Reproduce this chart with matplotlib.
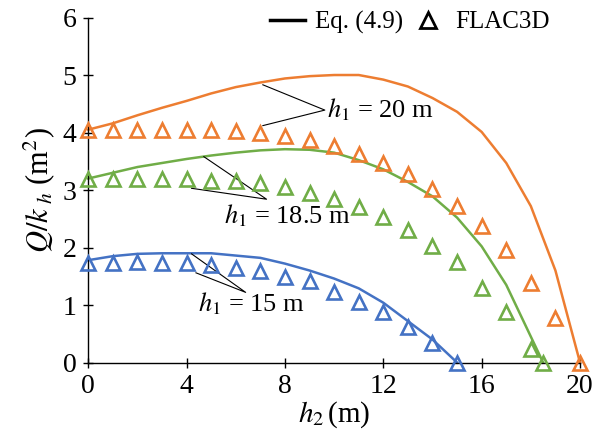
import numpy as np
import matplotlib
matplotlib.use("Agg")
import matplotlib.pyplot as plt
from matplotlib.lines import Line2D

plt.rcParams['font.family'] = ['Liberation Serif', 'DejaVu Serif']
plt.rcParams['mathtext.fontset'] = 'stix'

# Eq. (4.9) curves
h2_eq_20 = [0, 1, 2, 3, 4, 5, 6, 7, 8, 9, 10, 11, 12, 13, 14, 15, 16, 17, 18, 19, 20]
q_eq_20 = [4.05, 4.16, 4.30, 4.43, 4.55, 4.68, 4.79, 4.87, 4.94, 4.98, 5.0, 5.0,
           4.92, 4.80, 4.60, 4.36, 4.01, 3.47, 2.72, 1.60, 0.0]
h2_eq_185 = [0, 1, 2, 3, 4, 5, 6, 7, 8, 9, 10, 11, 12, 13, 14, 15, 16, 17, 18, 18.5]
q_eq_185 = [3.20, 3.30, 3.40, 3.47, 3.54, 3.60, 3.65, 3.69, 3.71, 3.70, 3.65, 3.52,
            3.36, 3.14, 2.89, 2.52, 2.02, 1.35, 0.45, 0.0]
h2_eq_15 = [0, 1, 2, 3, 4, 5, 6, 7, 8, 9, 10, 11, 12, 13, 14, 15]
q_eq_15 = [1.78, 1.85, 1.89, 1.90, 1.90, 1.90, 1.86, 1.82, 1.72, 1.60, 1.46, 1.29,
           1.04, 0.72, 0.40, 0.0]

# FLAC3D results
h2_fl_20 = h2_eq_20
q_fl_20 = [4.05, 4.05, 4.05, 4.05, 4.05, 4.05, 4.03, 4.00, 3.94, 3.87, 3.77, 3.62,
           3.47, 3.28, 3.02, 2.73, 2.37, 1.95, 1.38, 0.77, 0.0]
h2_fl_185 = h2_eq_185
q_fl_185 = [3.20, 3.20, 3.20, 3.20, 3.20, 3.16, 3.15, 3.12, 3.06, 2.95, 2.84, 2.70,
            2.53, 2.30, 2.03, 1.74, 1.30, 0.87, 0.23, 0.0]
h2_fl_15 = h2_eq_15
q_fl_15 = [1.73, 1.73, 1.74, 1.73, 1.73, 1.70, 1.65, 1.59, 1.49, 1.41, 1.23, 1.05,
           0.87, 0.62, 0.34, 0.0]

orange = '#ED7D31'
green = '#70AD47'
blue = '#4472C4'

fig = plt.figure(figsize=(5.95, 4.48), dpi=100)
ax = fig.add_axes([0.1484, 0.1908, 0.8264, 0.7701])

for x, y, c in [(h2_eq_20, q_eq_20, orange), (h2_eq_185, q_eq_185, green), (h2_eq_15, q_eq_15, blue)]:
    ax.plot(x, y, color=c, lw=1.8, clip_on=False, zorder=2)
for x, y, c in [(h2_fl_20, q_fl_20, orange), (h2_fl_185, q_fl_185, green), (h2_fl_15, q_fl_15, blue)]:
    ax.plot(x, y, ls='none', marker='^', ms=10.5, mfc='none', mec=c, mew=1.9,
            clip_on=False, zorder=3)

# leader lines + labels
ax.plot([7.10, 9.62, 7.10], [4.83, 4.39, 4.12], color='black', lw=0.8)
ax.text(9.70, 4.39, r'$h_1$ = 20 m', fontsize=19, va='center', ha='left')
ax.plot([4.70, 7.25, 4.20], [3.58, 2.84, 3.03], color='black', lw=0.8)
ax.text(5.52, 2.55, r'$h_1$ = 18.5 m', fontsize=19, va='center', ha='left')
ax.plot([4.20, 6.40, 4.38], [1.89, 1.22, 1.56], color='black', lw=0.8)
ax.text(4.47, 1.03, r'$h_1$ = 15 m', fontsize=19, va='center', ha='left')

ax.set_xlim(0, 20)
ax.set_ylim(0, 6)
ax.set_xticks([0, 4, 8, 12, 16, 20])
ax.set_yticks([0, 1, 2, 3, 4, 5, 6])
ax.spines['top'].set_visible(False)
ax.spines['right'].set_visible(False)
ax.spines['left'].set_linewidth(1.0)
ax.spines['bottom'].set_linewidth(1.0)
ax.tick_params(direction='inout', length=7, width=1.0, labelsize=20, pad=5)
ax.set_xlabel(r'$h_2\,$(m)', fontsize=21, labelpad=0)
ax.set_ylabel(r'$Q/k_{\ h}\ $(m$^2$)', fontsize=22, labelpad=4)

handles = [Line2D([], [], color='black', lw=2.5),
           Line2D([], [], ls='none', marker='^', ms=11, mfc='none', mec='black', mew=2)]
ax.legend(handles, ['Eq. (4.9)', 'FLAC3D'], loc='upper right', bbox_to_anchor=(0.985, 1.085),
          ncol=2, frameon=False, fontsize=18, handlelength=1.4, handletextpad=0.4,
          columnspacing=0.3)

fig.savefig('out.png', dpi=100)
